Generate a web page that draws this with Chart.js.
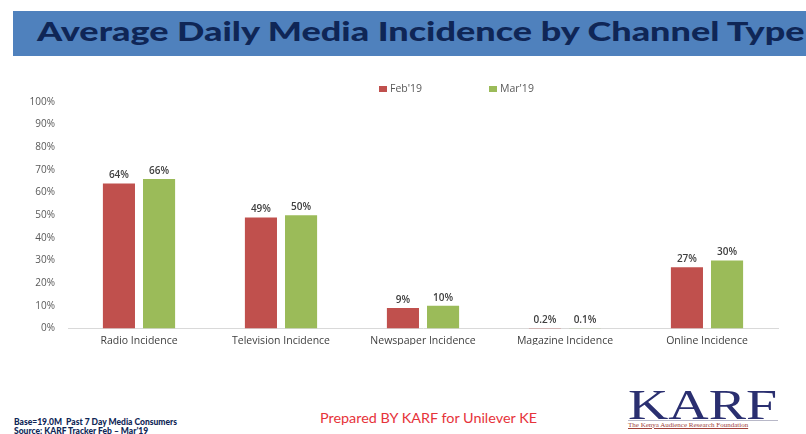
<html>
<head>
<title>Average Daily Media Incidence by Channel Type</title>
<script src="https://cdn.jsdelivr.net/npm/chart.js@4.4.1/dist/chart.umd.min.js"></script>
<style>
  body { margin: 0; width: 806px; height: 434px; overflow: hidden; background: #fff; position: relative; font-family: "Open Sans", sans-serif; }
  #banner { position: absolute; left: 13px; top: 11px; width: 800px; height: 45px; background: #4F81BD; }
  #title { position: absolute; left: 37px; top: 14px; font-family: Lato, sans-serif; font-weight: 900; font-size: 27px; color: #0F2656; white-space: nowrap; transform-origin: left top; }
  #chartBox { position: absolute; left: 0; top: 62px; width: 806px; height: 300px; }
  #base { position: absolute; left: 14px; top: 418px; font-family: Lato, sans-serif; font-weight: 900; font-size: 8.5px; color: #0F2656; line-height: 9px; white-space: nowrap; }
  #prepared { position: absolute; left: 320px; top: 410px; font-family: Lato, sans-serif; font-size: 13px; color: #E6333A; white-space: nowrap; transform-origin: left top; }
  #logo { position: absolute; left: 628px; top: 384px; font-family: "Liberation Serif", serif; font-size: 42px; color: #2A2F70; line-height: 42px; transform-origin: left top; white-space: nowrap; }
  #logoSub { position: absolute; left: 628px; top: 420px; width: 150px; border-top: 1px solid #b8b8c8; font-family: "Liberation Serif", serif; font-size: 7px; color: #A0413A; line-height: 8px; text-decoration: underline; white-space: nowrap; }
</style>
</head>
<body>
<div id="banner"></div>
<div id="title">Average Daily Media Incidence by Channel Type</div>
<div id="chartBox"><canvas id="myChart"></canvas></div>
<div id="base">Base=19.0M&nbsp; Past 7 Day Media Consumers<br>Source: KARF Tracker Feb – Mar’19</div>
<div id="prepared">Prepared BY KARF for Unilever KE</div>
<div id="logo">KARF</div>
<div id="logoSub">The Kenya Audience Research Foundation</div>

<script>
// stretch the headline to the width it has in the slide
function fitWidth(id, w) {
    var el = document.getElementById(id);
    el.style.transform = 'scaleX(' + (w / el.offsetWidth) + ')';
}
fitWidth('title', 768);
fitWidth('prepared', 217);
fitWidth('logo', 149);

var categories = ["Radio Incidence", "Television Incidence", "Newspaper Incidence", "Magazine Incidence", "Online Incidence"];
var feb19 = [64, 49, 9, 0.2, 27];
var mar19 = [66, 50, 10, 0.1, 30];
var yTicks = [0, 10, 20, 30, 40, 50, 60, 70, 80, 90, 100];

function pct(v) {
    return (v < 1 ? v.toFixed(1) : Math.round(v)) + '%';
}

// value labels above each bar
var barLabels = {
    id: 'barLabels',
    afterDatasetsDraw: function(chart) {
        var ctx = chart.ctx;
        ctx.save();
        ctx.font = '600 10px "Open Sans"';
        ctx.fillStyle = '#404040';
        ctx.textAlign = 'center';
        ctx.textBaseline = 'bottom';
        chart.data.datasets.forEach(function(ds, i) {
            chart.getDatasetMeta(i).data.forEach(function(bar, j) {
                ctx.fillText(pct(ds.data[j]), bar.x, bar.y - 3);
            });
        });
        ctx.restore();
    }
};

// simple legend, placed where the slide has it (right of centre)
var slideLegend = {
    id: 'slideLegend',
    afterDraw: function(chart) {
        var ctx = chart.ctx;
        var x = chart.chartArea.left + 311;
        var y = chart.chartArea.top - 13;
        ctx.save();
        ctx.font = '10.5px "Open Sans"';
        ctx.textBaseline = 'middle';
        chart.data.datasets.forEach(function(ds, i) {
            var bx = x + i * 110;
            ctx.fillStyle = ds.backgroundColor;
            ctx.fillRect(bx, y - 3, 8, 6);
            ctx.fillStyle = '#595959';
            ctx.fillText(ds.label, bx + 11, y);
        });
        ctx.restore();
    }
};

var ctx = document.getElementById('myChart').getContext('2d');
var chart = new Chart(ctx, {
    type: 'bar',
    data: {
        labels: categories,
        datasets: [{
            label: "Feb'19",
            backgroundColor: '#C0504D',
            data: feb19
        }, {
            label: "Mar'19",
            backgroundColor: '#9BBB59',
            data: mar19
        }]
    },
    options: {
        responsive: true,
        maintainAspectRatio: false,
        animation: false,
        events: [],
        layout: { padding: { left: 0, right: 28, top: 40, bottom: 17 } },
        datasets: {
            bar: { categoryPercentage: 0.565, barPercentage: 0.8 }
        },
        plugins: {
            tooltip: { enabled: false },
            legend: { display: false }
        },
        scales: {
            x: {
                grid: { display: false },
                border: { color: '#D9D9D9', width: 1 },
                ticks: { color: '#404040', padding: -2, font: { family: '"Open Sans"', size: 10.5 } }
            },
            y: {
                min: 0, max: 100,
                afterFit: function(scale) { scale.width = 68; },
                afterBuildTicks: function(scale) {
                    scale.ticks = yTicks.map(function(v) { return { value: v }; });
                },
                grid: { display: false, drawTicks: false },
                border: { display: false },
                ticks: {
                    color: '#595959', padding: 13,
                    font: { family: '"Open Sans"', size: 10 },
                    callback: function(v) { return v + '%'; }
                }
            }
        }
    },
    plugins: [barLabels, slideLegend]
});
</script>
</body>
</html>
